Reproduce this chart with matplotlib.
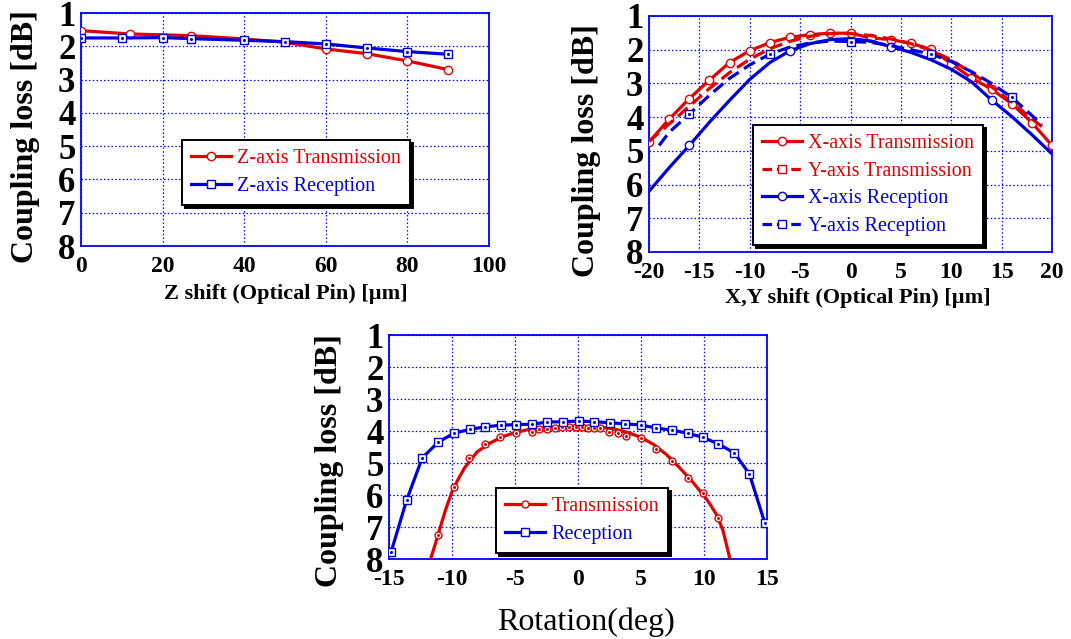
import matplotlib
matplotlib.use("Agg")
import matplotlib.pyplot as plt
from matplotlib.lines import Line2D

RED = '#e00000'
BLUE = '#0000d8'

# ---- Z shift panel ----
z_trans_x = [0, 12, 27, 40, 50, 60, 70, 80, 90]
z_trans_y = [1.53, 1.63, 1.68, 1.78, 1.88, 2.08, 2.22, 2.44, 2.70]
z_rec_x = [0, 10, 20, 27, 40, 50, 60, 70, 80, 90]
z_rec_y = [1.75, 1.75, 1.74, 1.77, 1.82, 1.86, 1.93, 2.05, 2.16, 2.24]

# ---- X,Y shift panel ----
xy_x = [-20, -18, -16, -14, -12, -10, -8, -6, -4, -2, 0, 2, 4, 6, 8, 10, 12, 14, 16, 18, 20]
x_trans = [4.74, 4.06, 3.45, 2.90, 2.38, 2.03, 1.79, 1.63, 1.55, 1.51, 1.51, 1.65, 1.70,
           1.81, 1.99, 2.41, 2.84, 3.17, 3.60, 4.16, 4.84]
x_rec = [6.20, 5.50, 4.84, 4.15, 3.50, 2.88, 2.38, 2.03, 1.82, 1.70, 1.67, 1.74, 1.91,
         2.08, 2.30, 2.58, 2.95, 3.49, 3.98, 4.52, 5.09]
y_trans_x = [-20, -18, -16, -14, -12, -10, -8, -6, -4, -2, 0, 2, 4, 6, 8, 10, 12, 14, 16, 18, 19]
y_trans = [4.72, 4.20, 3.68, 3.15, 2.68, 2.28, 1.97, 1.75, 1.60, 1.52, 1.52, 1.58, 1.68,
           1.82, 2.02, 2.30, 2.68, 3.10, 3.55, 4.05, 4.28]
y_rec_x = [-19, -18, -16, -14, -12, -10, -8, -6, -4, -2, 0, 2, 4, 6, 8, 10, 12, 14, 16, 18, 19]
y_rec = [4.84, 4.45, 3.91, 3.35, 2.85, 2.45, 2.13, 1.92, 1.80, 1.74, 1.76, 1.78, 1.88,
         2.00, 2.13, 2.35, 2.65, 3.00, 3.41, 3.95, 4.23]

# ---- Rotation panel ----
rot_rec_x = [-14.84, -13.6, -12.36, -11.1, -9.85, -8.6, -7.36, -6.14, -4.92, -3.68, -2.44,
             -1.2, 0.04, 1.28, 2.5, 3.76, 5.0, 6.2, 7.46, 8.7, 9.94, 11.1, 12.4, 13.6, 14.84]
rot_rec_y = [7.79, 6.16, 4.84, 4.35, 4.07, 3.95, 3.87, 3.82, 3.80, 3.79, 3.72, 3.71, 3.69,
             3.71, 3.74, 3.78, 3.81, 3.91, 3.97, 4.07, 4.20, 4.40, 4.68, 5.34, 6.89]
rot_trans_x = [-11.1, -9.87, -8.63, -7.39, -6.17, -4.92, -3.67, -3.1, -2.48, -1.83, -1.27,
               -0.71, -0.16, 0.29, 0.79, 1.27, 1.75, 2.46, 3.15, 3.81, 4.98, 6.19, 7.44,
               8.7, 9.9, 11.13]
rot_trans_y = [7.26, 5.76, 4.84, 4.42, 4.19, 4.05, 4.03, 3.93, 3.93, 3.90, 3.88, 3.87, 3.87,
               3.88, 3.90, 3.90, 3.90, 4.03, 4.05, 4.16, 4.21, 4.56, 4.95, 5.47, 5.95, 6.72]
rot_fit_x = [-11.7, -11.3, -11.0, -10.5, -10.0, -9.5, -9, -8, -7, -6, -5, -4, -3, -2, -1, 0,
             1, 2, 3, 4, 5, 6, 7, 8, 9, 10, 10.5, 11, 11.5, 12.06]
rot_fit_y = [8.0, 7.5, 7.1, 6.45, 5.9, 5.5, 5.15, 4.65, 4.38, 4.18, 4.05, 3.96, 3.91, 3.88,
             3.86, 3.85, 3.86, 3.89, 3.95, 4.05, 4.2, 4.42, 4.73, 5.12, 5.55, 6.02, 6.3,
             6.62, 7.1, 8.0]

plt.rcParams['font.family'] = ['Liberation Serif', 'DejaVu Serif']
plt.rcParams['axes.unicode_minus'] = False

fig = plt.figure(figsize=(10.71, 6.39), dpi=100)
W, H = 1071.0, 639.0


def px_axes(l, t, r, b):
    # pixel box -> figure fraction axes
    return fig.add_axes([l / W, 1 - b / H, (r - l) / W, (b - t) / H])


def style_axes(ax, xlim, xticks):
    ax.set_xlim(*xlim)
    ax.set_ylim(8, 1)
    ax.set_xticks(xticks)
    ax.set_yticks(range(1, 9))
    ax.grid(True, color='#0000ff', linestyle=(0, (1.2, 1.8)), linewidth=0.9)
    for s in ax.spines.values():
        s.set_color('#0000ff')
        s.set_linewidth(1.3)
    ax.tick_params(length=0)
    ax.tick_params(axis='x', pad=7)
    ax.tick_params(axis='y', pad=4)
    for lab in ax.get_xticklabels():
        lab.set_fontsize(17)
        lab.set_fontweight('bold')
    for lab in ax.get_yticklabels():
        lab.set_fontsize(25)
        lab.set_fontweight('bold')


def dots(ax, x, y, color):
    ax.plot(x, y, linestyle='none', marker='o', markersize=1.2, color=color, zorder=6)


def add_legend(ax, handles, labels, colors, loc):
    leg = ax.legend(handles, labels, loc='upper left', bbox_to_anchor=loc,
                    fancybox=False, shadow={'color': 'black', 'alpha': 1.0},
                    framealpha=1, edgecolor='black', prop={'size': 14.5},
                    handlelength=2.0, handletextpad=0.3, borderpad=0.45,
                    labelspacing=0.42, borderaxespad=0)
    leg.get_frame().set_linewidth(1.4)
    for txt, c in zip(leg.get_texts(), colors):
        txt.set_color(c)
    return leg


lw = 2.3
circ = dict(marker='o', markersize=6, markerfacecolor='white', markeredgewidth=1.0)
sq = dict(marker='s', markersize=6, markerfacecolor='white', markeredgewidth=1.0)

# ---------- panel 1: Z shift ----------
ax1 = px_axes(81, 13, 489, 246)
ax1.plot(z_trans_x, z_trans_y, color=RED, lw=lw, markeredgecolor=RED,
         markevery=[0, 1, 2, 5, 6, 7, 8], zorder=3, **circ)
ax1.plot(z_rec_x, z_rec_y, color=BLUE, lw=lw, markeredgecolor=BLUE, zorder=4, **sq)
dots(ax1, z_rec_x, z_rec_y, BLUE)
style_axes(ax1, (0, 100), range(0, 101, 20))
h1 = [Line2D([], [], color=RED, lw=lw, markeredgecolor=RED, **circ),
      Line2D([], [], color=BLUE, lw=lw, markeredgecolor=BLUE, **sq)]
add_legend(ax1, h1, ['Z-axis Transmission', 'Z-axis Reception'], [RED, BLUE],
           ((182 - 81) / 408, (246 - 140) / 233))
fig.text(26 / W, 1 - 137 / H, 'Coupling loss [dB]', rotation=90, ha='center', va='center',
         fontsize=23, fontweight='bold')
fig.text(286 / W, 1 - 294 / H, 'Z shift (Optical Pin) [\u00b5m]', ha='center', va='center',
         fontsize=16, fontweight='bold')

# ---------- panel 2: X,Y shift ----------
ax2 = px_axes(649, 16, 1052, 252)
ax2.plot(xy_x, x_trans, color=RED, lw=lw, markeredgecolor=RED, zorder=3, **circ)
ax2.plot(y_trans_x, y_trans, color=RED, lw=lw, linestyle=(0, (4, 2)), zorder=3)
ax2.plot(xy_x, x_rec, color=BLUE, lw=lw, markeredgecolor=BLUE,
         markevery=[2, 7, 12, 17], zorder=4, **circ)
ax2.plot(y_rec_x, y_rec, color=BLUE, lw=lw, linestyle=(0, (4, 2)), markeredgecolor=BLUE,
         markevery=[2, 6, 10, 14, 18], zorder=4, **sq)
dots(ax2, [y_rec_x[i] for i in [2, 6, 10, 14, 18]], [y_rec[i] for i in [2, 6, 10, 14, 18]], BLUE)
style_axes(ax2, (-20, 20), range(-20, 21, 5))
h2 = [Line2D([], [], color=RED, lw=lw, markeredgecolor=RED, **circ),
      Line2D([], [], color=RED, lw=lw, linestyle=(0, (3, 1.5)), markeredgecolor=RED, **sq),
      Line2D([], [], color=BLUE, lw=lw, markeredgecolor=BLUE, **circ),
      Line2D([], [], color=BLUE, lw=lw, linestyle=(0, (3, 1.5)), markeredgecolor=BLUE, **sq)]
add_legend(ax2, h2, ['X-axis Transmission', 'Y-axis Transmission', 'X-axis Reception',
                     'Y-axis Reception'], [RED, RED, BLUE, BLUE],
           ((753 - 649) / 403, (252 - 125) / 236))
fig.text(586 / W, 1 - 151 / H, 'Coupling loss [dB]', rotation=90, ha='center', va='center',
         fontsize=23, fontweight='bold')
fig.text(858 / W, 1 - 298 / H, 'X,Y shift (Optical Pin) [\u00b5m]', ha='center', va='center',
         fontsize=16, fontweight='bold')

# ---------- panel 3: rotation ----------
ax3 = px_axes(389, 335, 767, 559)
ax3.plot(rot_fit_x, rot_fit_y, color=RED, lw=lw, zorder=3)
ax3.plot(rot_trans_x, rot_trans_y, linestyle='none', markeredgecolor=RED, zorder=4,
         **dict(circ, markersize=5))
dots(ax3, rot_trans_x, rot_trans_y, RED)
ax3.plot(rot_rec_x, rot_rec_y, color=BLUE, lw=lw, markeredgecolor=BLUE, zorder=5,
         **dict(sq, markersize=5.2))
dots(ax3, rot_rec_x, rot_rec_y, BLUE)
style_axes(ax3, (-15, 15), range(-15, 16, 5))
h3 = [Line2D([], [], color=RED, lw=lw, markeredgecolor=RED, **dict(circ, markersize=5)),
      Line2D([], [], color=BLUE, lw=lw, markeredgecolor=BLUE, **dict(sq, markersize=5.2))]
add_legend(ax3, h3, ['Transmission', 'Reception'], [RED, BLUE],
           ((496 - 389) / 378, (559 - 488) / 224))
fig.text(329 / W, 1 - 461 / H, 'Coupling loss [dB]', rotation=90, ha='center', va='center',
         fontsize=23, fontweight='bold')
fig.text(586 / W, 1 - 622 / H, 'Rotation(deg)', ha='center', va='center', fontsize=23)

fig.savefig('out.png', dpi=100)
